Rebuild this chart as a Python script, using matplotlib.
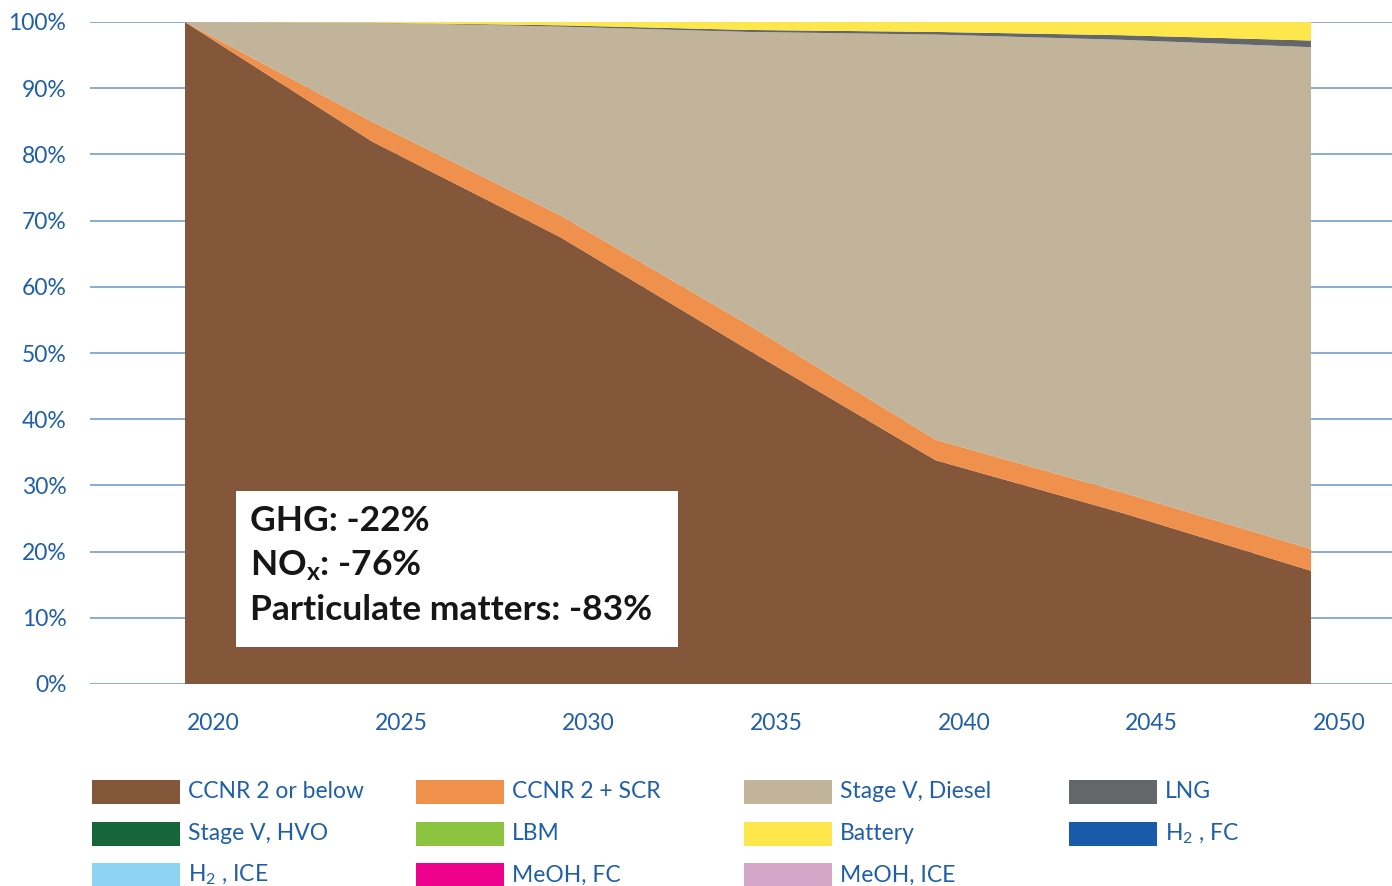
import matplotlib
matplotlib.use("Agg")
import matplotlib.pyplot as plt
from matplotlib.patches import Rectangle
import numpy as np

plt.rcParams["font.family"] = ["Lato", "DejaVu Sans"]
plt.rcParams["mathtext.default"] = "regular"

# shares of the fleet, percent
years = [2020, 2025, 2030, 2035, 2040, 2045, 2050]
ccnr2_below = [100.0, 81.9, 67.5, 50.5, 33.8, 25.8, 17.1]
ccnr2_scr = [0.0, 3.0, 3.3, 3.8, 3.1, 3.1, 3.3]
lng = [0.0, 0.0, 0.2, 0.3, 0.4, 0.7, 1.0]
stage_v_hvo = [0, 0, 0, 0, 0, 0, 0]
lbm = [0, 0, 0, 0, 0, 0, 0]
battery = [0.0, 0.1, 0.5, 1.2, 1.5, 2.0, 2.8]
h2_fc = [0, 0, 0, 0, 0, 0, 0]
h2_ice = [0, 0, 0, 0, 0, 0, 0]
meoh_fc = [0, 0, 0, 0, 0, 0, 0]
meoh_ice = [0, 0, 0, 0, 0, 0, 0]
stage_v_diesel = list(100 - np.array(ccnr2_below) - np.array(ccnr2_scr) - np.array(lng) - np.array(battery))

labels = ["CCNR 2 or below", "CCNR 2 + SCR", "Stage V, Diesel", "LNG",
          "Stage V, HVO", "LBM", "Battery", "H$_2$ , FC",
          "H$_2$ , ICE", "MeOH, FC", "MeOH, ICE"]
series = [ccnr2_below, ccnr2_scr, stage_v_diesel, lng,
          stage_v_hvo, lbm, battery, h2_fc,
          h2_ice, meoh_fc, meoh_ice]
colors = ["#85573A", "#F0904D", "#C2B49A", "#636769",
          "#17663A", "#8CC43F", "#FDE74C", "#1A5AAA",
          "#8ED3F1", "#EC008C", "#D4A6C8"]

blue = "#1F5FAA"
W, H = 1392, 886
fig = plt.figure(figsize=(W / 100, H / 100), dpi=100)
ax = fig.add_axes([90 / W, 1 - 684 / H, 1 - 90 / W, (684 - 22) / H])

ax.stackplot(years, *series, colors=colors, linewidth=0, zorder=2)

ax.set_ylim(0, 100)
ax.set_xlim(2020 - 95 / 37.53, 2050 + 81 / 37.53)
ax.set_yticks(np.arange(0, 101, 10))
ax.set_yticklabels([f"{v}%" for v in range(0, 101, 10)])
ax.set_xticks(np.array(years) + 0.75)
ax.set_xticklabels([str(y) for y in years])
ax.grid(axis="y", color="#7FA6D6", linewidth=1.3, zorder=0)
ax.set_axisbelow(True)
for s in ax.spines.values():
    s.set_visible(False)
ax.tick_params(axis="both", length=0, labelsize=16.5, labelcolor=blue)
ax.tick_params(axis="y", pad=17)
ax.tick_params(axis="x", pad=21)

# summary box
fig.add_artist(Rectangle((236 / W, 1 - 647 / H), (678 - 236) / W, (647 - 491) / H,
                         transform=fig.transFigure, facecolor="white",
                         edgecolor="none", zorder=5))
box_lines = ["GHG: -22%", "NO$_x$: -76%", "Particulate matters: -83%"]
for i, line in enumerate(box_lines):
    fig.text(250 / W, 1 - (521 + i * 44.5) / H, line, fontsize=25.5,
             fontweight="bold", color="#161616", va="center", ha="left", zorder=6)

# legend, row by row
col_x = [92, 416, 744, 1069]
row_y = [792, 834, 875]
for i, (lab, col) in enumerate(zip(labels, colors)):
    r, c = divmod(i, 4)
    x0, yc = col_x[c], row_y[r]
    fig.add_artist(Rectangle((x0 / W, 1 - (yc + 12) / H), 88 / W, 24 / H,
                             transform=fig.transFigure, facecolor=col,
                             edgecolor="none"))
    fig.text((x0 + 96) / W, 1 - yc / H, lab, fontsize=16.5, color=blue,
             va="center", ha="left")

fig.savefig("out.png", dpi=100)
